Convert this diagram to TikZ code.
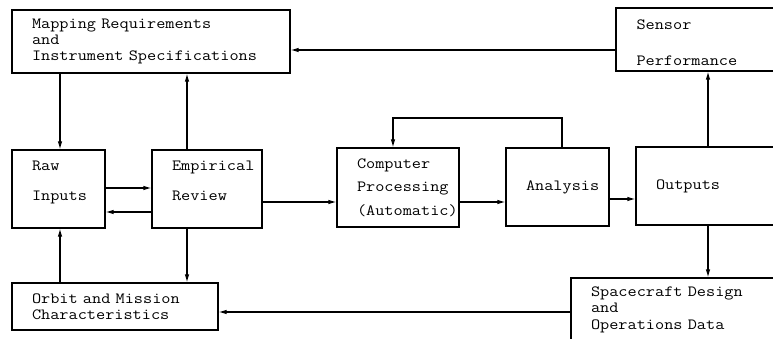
\documentclass[tikz,border=0pt]{standalone}
\usepackage{fontspec}
\setmonofont{Latin Modern Mono}[FakeStretch=1.14]
\usetikzlibrary{arrows.meta,calc}
\begin{document}
\begin{tikzpicture}[x=1pt,y=-1pt,
  box/.style={draw, line width=1.1pt, rectangle, align=left, inner xsep=20pt, inner ysep=0pt,
    font=\ttfamily\fontsize{15.6}{#1}\selectfont},
  arr/.style={line width=1.1pt, -{Latex[length=8pt,width=4.5pt]}}]
\useasboundingbox (0,0) rectangle (773,339);
\clip (0,0) rectangle (773,339);
\node[box=16, minimum width=278pt, minimum height=63pt, text width=238pt] (map) at (151,41.5)
  {Mapping Requirements\\and\\Instrument Specifications};
\node[box=36, minimum width=184pt, minimum height=63pt, text width=143pt, text depth=30pt] (sensor) at (708,39.5)
  {Sensor\\Performance};
\node[box=30, minimum width=93pt, minimum height=78pt, text width=53pt, text depth=47pt] (raw) at (58.5,189)
  {Raw\\Inputs};
\node[box=30, minimum width=110pt, minimum height=78pt, text width=70pt, text depth=47pt] (emp) at (207,189)
  {Empirical\\Review};
\node[box=23.5, minimum width=122pt, minimum height=79pt, text width=82pt] (comp) at (398,187.5)
  {Computer\\Processing\\(Automatic)};
\node[box=16, minimum width=103pt, minimum height=78pt, text width=63pt] (anal) at (557.5,187)
  {Analysis};
\node[box=16, minimum width=164pt, minimum height=78pt, text width=124pt] (out) at (718,186)
  {Outputs};
\node[box=16, minimum width=206pt, minimum height=47pt, text width=166pt] (orbit) at (115,306.5)
  {Orbit and Mission\\Characteristics};
\node[box=16.5, minimum width=229pt, minimum height=63pt, text width=189pt] (space) at (685.5,309.5)
  {Spacecraft Design\\and\\Operations Data};
\coordinate (yA) at (0,50);
\coordinate (yB) at (0,188);
\coordinate (yC) at (0,212);
\coordinate (yD) at (0,202);
\coordinate (yE) at (0,199);
\coordinate (yF) at (0,118);
\coordinate (yG) at (0,312);
\coordinate (xA) at (60,0);
\coordinate (xB) at (187,0);
\coordinate (xC) at (562,0);
\coordinate (xD) at (393,0);
\coordinate (xE) at (708,0);
\draw[arr] (sensor.west |- yA) -- (map.east |- yA);
\draw[arr] (map.south -| xA) -- (raw.north -| xA);
\draw[arr] (emp.north -| xB) -- (map.south -| xB);
\draw[arr] (raw.east |- yB) -- (emp.west |- yB);
\draw[arr] (emp.west |- yC) -- (raw.east |- yC);
\draw[arr] (emp.east |- yD) -- (comp.west |- yD);
\draw[arr] (comp.east |- yD) -- (anal.west |- yD);
\draw[arr] (anal.east |- yE) -- (out.west |- yE);
\draw[arr] (anal.north -| xC) -- (xC |- yF) -- (xD |- yF) -- (comp.north -| xD);
\draw[arr] (out.north -| xE) -- (sensor.south -| xE);
\draw[arr] (out.south -| xE) -- (space.north -| xE);
\draw[arr] (space.west |- yG) -- (orbit.east |- yG);
\draw[arr] (orbit.north -| xA) -- (raw.south -| xA);
\draw[arr] (emp.south -| xB) -- (orbit.north -| xB);
\end{tikzpicture}
\end{document}
